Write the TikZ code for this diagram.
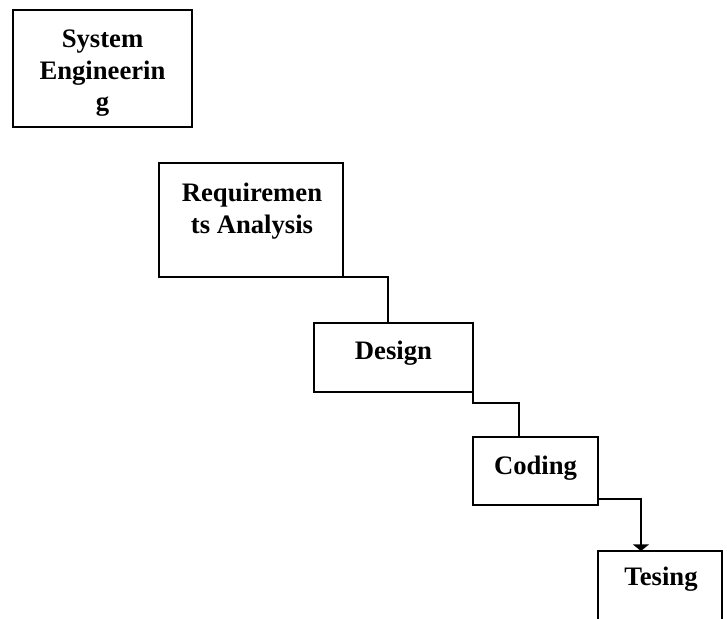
\documentclass[tikz,border=0pt]{standalone}
\usepackage{fontspec}
\setmainfont{Liberation Serif}
\usetikzlibrary{arrows.meta,calc}
\tikzset{
  stage/.style={draw=black, line width=1.9pt, fill=none, inner sep=0pt, outer sep=0pt},
  caption/.style={anchor=north, align=center, inner sep=0pt, font=\fontsize{20}{23.5}\selectfont\bfseries},
  link/.style={draw=black, line width=1.9pt},
}
\begin{document}
\begin{tikzpicture}[x=0.75pt, y=-0.75pt]
  \useasboundingbox (0,0) rectangle (727,618);
  \clip (0,0) rectangle (727,618);

  % stage boxes
  \node[stage, minimum width=134.25pt, minimum height=87.75pt] (se) at (102.5,68.5) {};
  \node[stage, minimum width=138pt, minimum height=85.5pt] (req) at (251,220) {};
  \node[stage, minimum width=119.25pt, minimum height=51.75pt] (des) at (393.5,357.5) {};
  \node[stage, minimum width=93.75pt, minimum height=51pt] (cod) at (535.5,471) {};
  \node[stage, minimum width=93pt, minimum height=73.5pt] (tst) at (660,600) {};

  % stage names
  \node[caption] (seT) at (102.5,30) {System\\Engineerin\\g};
  \node[caption] (reqT) at (252,183) {Requiremen\\ts Analysis};
  \node[caption] (desT) at (393.5,341) {Design};
  \node[caption] (codT) at (535.5,456) {Coding};
  \node[caption] (tstT) at (661,567) {Tesing};

  % connectors
  \draw[link] (req.south east) -| ([xshift=-4.1pt]des.north);
  \draw[link] (des.south east) -- ++(0,11) -| ([xshift=-12.4pt]cod.north);
  \draw[link, -{Triangle[width=12pt,length=5pt]}]
    ([yshift=4.5pt]cod.south east) -| ([xshift=-14.3pt]tst.north);
\end{tikzpicture}
\end{document}
